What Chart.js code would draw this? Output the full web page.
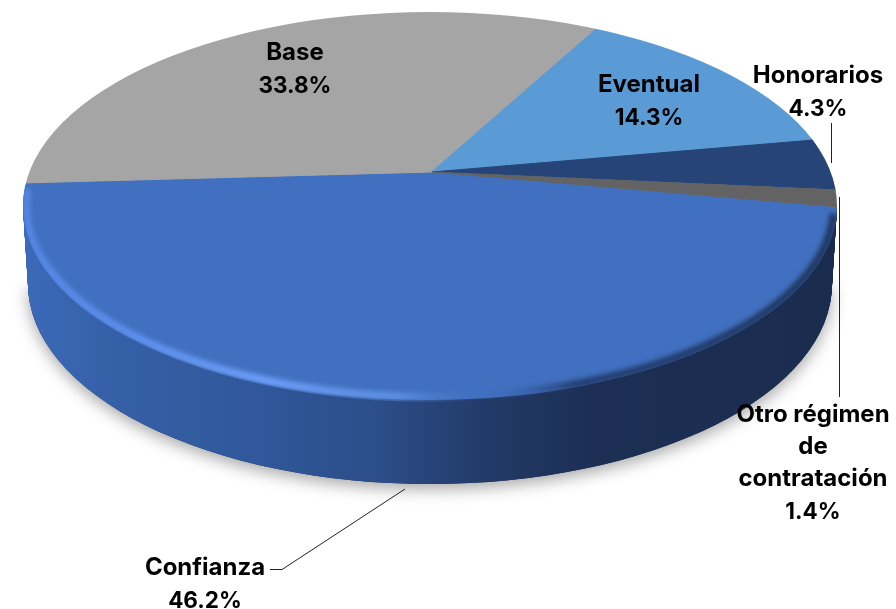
<!DOCTYPE html>
<html>
<head>
<meta charset="utf-8">
<style>
  html, body { margin: 0; padding: 0; background: #fff; }
  #pie { display: block; }
</style>
<script src="https://cdn.jsdelivr.net/npm/chart.js@4/dist/chart.umd.min.js"></script>
</head>
<body>
<canvas id="pie" width="896" height="609"></canvas>
<script>
const categories = ['Confianza', 'Base', 'Eventual', 'Honorarios', 'Otro régimen de contratación'];
const shares = [46.2, 33.8, 14.3, 4.3, 1.4];
const sliceColors = ['#4170c0', '#a5a5a5', '#5b9bd5', '#264478', '#636363'];

// wrapped category text and where each label block is centred
const labelLines = [['Confianza'], ['Base'], ['Eventual'], ['Honorarios'], ['Otro régimen', 'de', 'contratación']];
const labelSpots = [[205, 568], [295, 53], [649, 85], [818, 76], [813, 415]];
const LINE_GAP = 32;

// the pie is tilted: apex sits above the middle of the top ellipse
const APEX = { x: 432, y: 172 };
const TOP = { x: 430, y: 206, rx: 407, ry: 194 };
const BOTTOM = { x: 430, y: 284, rx: 402, ry: 200 };
const REACH = 520;   // painted radius, the ellipse clip trims it
const SQUASH = 0.47;

function drawTilted(ctx, arc, dy, fill) {
  const k = REACH / arc.outerRadius;
  const t = dy / (BOTTOM.y - TOP.y);
  ctx.save();
  ctx.beginPath();
  ctx.ellipse(TOP.x, TOP.y + dy, TOP.rx + (BOTTOM.rx - TOP.rx) * t, TOP.ry + (BOTTOM.ry - TOP.ry) * t, 0, 0, Math.PI * 2);
  ctx.clip();
  ctx.translate(APEX.x, APEX.y + dy);
  ctx.scale(k, k * SQUASH);
  ctx.translate(-arc.x, -arc.y);
  const saved = arc.options;
  if (fill) {
    arc.options = Object.assign({}, saved, { backgroundColor: fill(ctx, arc, k), borderWidth: 0 });
  }
  arc.draw(ctx);
  arc.options = saved;
  ctx.restore();
}

// side wall shading runs left to right across the screen
function wallFill(ctx, arc, k) {
  const toLocal = x => arc.x + (x - APEX.x) / k;
  const g = ctx.createLinearGradient(toLocal(23), 0, toLocal(838), 0);
  g.addColorStop(0, '#3c6ab8');
  g.addColorStop(0.12, '#355fa6');
  g.addColorStop(0.3, '#30579a');
  g.addColorStop(0.45, '#2b4c86');
  g.addColorStop(0.56, '#233b69');
  g.addColorStop(0.7, '#1c2f54');
  g.addColorStop(1, '#1a2c4e');
  return g;
}

const tiltedPie = {
  id: 'tiltedPie',
  beforeDatasetDraw(chart) {
    const ctx = chart.ctx;
    const arcs = chart.getDatasetMeta(0).data;

    // soft shadow under the disc
    ctx.save();
    ctx.shadowColor = 'rgba(0,0,0,0.35)';
    ctx.shadowBlur = 16;
    ctx.shadowOffsetY = 5;
    ctx.fillStyle = '#1a2c4e';
    ctx.beginPath();
    ctx.ellipse(BOTTOM.x, BOTTOM.y, BOTTOM.rx, BOTTOM.ry, 0, 0, Math.PI);
    ctx.fill();
    ctx.restore();

    for (let dy = BOTTOM.y - TOP.y; dy > 0; dy--) {
      drawTilted(ctx, arcs[0], dy, wallFill);
    }
    arcs.forEach(arc => drawTilted(ctx, arc, 0));

    // bevel along the front edge of the top face
    ctx.save();
    ctx.beginPath();
    ctx.ellipse(TOP.x, TOP.y, TOP.rx, TOP.ry + 2, 0, 0, Math.PI * 2);
    ctx.clip();
    const rim = ctx.createLinearGradient(TOP.x - TOP.rx, 0, TOP.x + TOP.rx, 0);
    rim.addColorStop(0, 'rgba(85,135,230,0.95)');
    rim.addColorStop(0.3, 'rgba(110,160,250,1)');
    rim.addColorStop(0.46, 'rgba(105,155,240,0.7)');
    rim.addColorStop(0.56, 'rgba(68,114,196,0.1)');
    rim.addColorStop(0.68, 'rgba(28,48,90,0.8)');
    rim.addColorStop(1, 'rgba(26,44,78,0.85)');
    ctx.strokeStyle = rim;
    ctx.lineWidth = 8;
    ctx.filter = 'blur(2.5px)';
    ctx.beginPath();
    ctx.ellipse(TOP.x, TOP.y, TOP.rx - 3, TOP.ry - 3, 0, 0.04, Math.PI + 0.09);
    ctx.stroke();
    ctx.restore();
    return false;
  },
  afterDraw(chart) {
    const ctx = chart.ctx;
    ctx.save();
    ctx.strokeStyle = '#222';
    ctx.lineWidth = 1;
    [
      [[831.5, 123], [831.5, 163]],
      [[839.5, 197], [839.5, 397]],
      [[270, 569.5], [282, 569.5], [405, 489]]
    ].forEach(pts => {
      ctx.beginPath();
      pts.forEach((p, i) => i ? ctx.lineTo(p[0], p[1]) : ctx.moveTo(p[0], p[1]));
      ctx.stroke();
    });

    ctx.fillStyle = '#000';
    ctx.textAlign = 'center';
    ctx.textBaseline = 'middle';
    categories.forEach((name, i) => {
      const [x, y] = labelSpots[i];
      ctx.font = 'bold 24px Inter';
      labelLines[i].forEach((line, n) => ctx.fillText(line, x, y + n * LINE_GAP));
      ctx.font = 'bold 22.5px Inter';
      ctx.fillText(shares[i].toFixed(1) + '%', x, y + 1 + labelLines[i].length * LINE_GAP);
    });
    ctx.restore();
  }
};

new Chart(document.getElementById('pie'), {
  type: 'pie',
  data: {
    labels: categories,
    datasets: [{
      data: shares,
      backgroundColor: sliceColors,
      borderColor: sliceColors,
      borderWidth: 1
    }]
  },
  options: {
    responsive: false,
    animation: false,
    rotation: 100.4,
    plugins: { legend: { display: false }, tooltip: { enabled: false } }
  },
  plugins: [tiltedPie]
});
</script>
</body>
</html>
